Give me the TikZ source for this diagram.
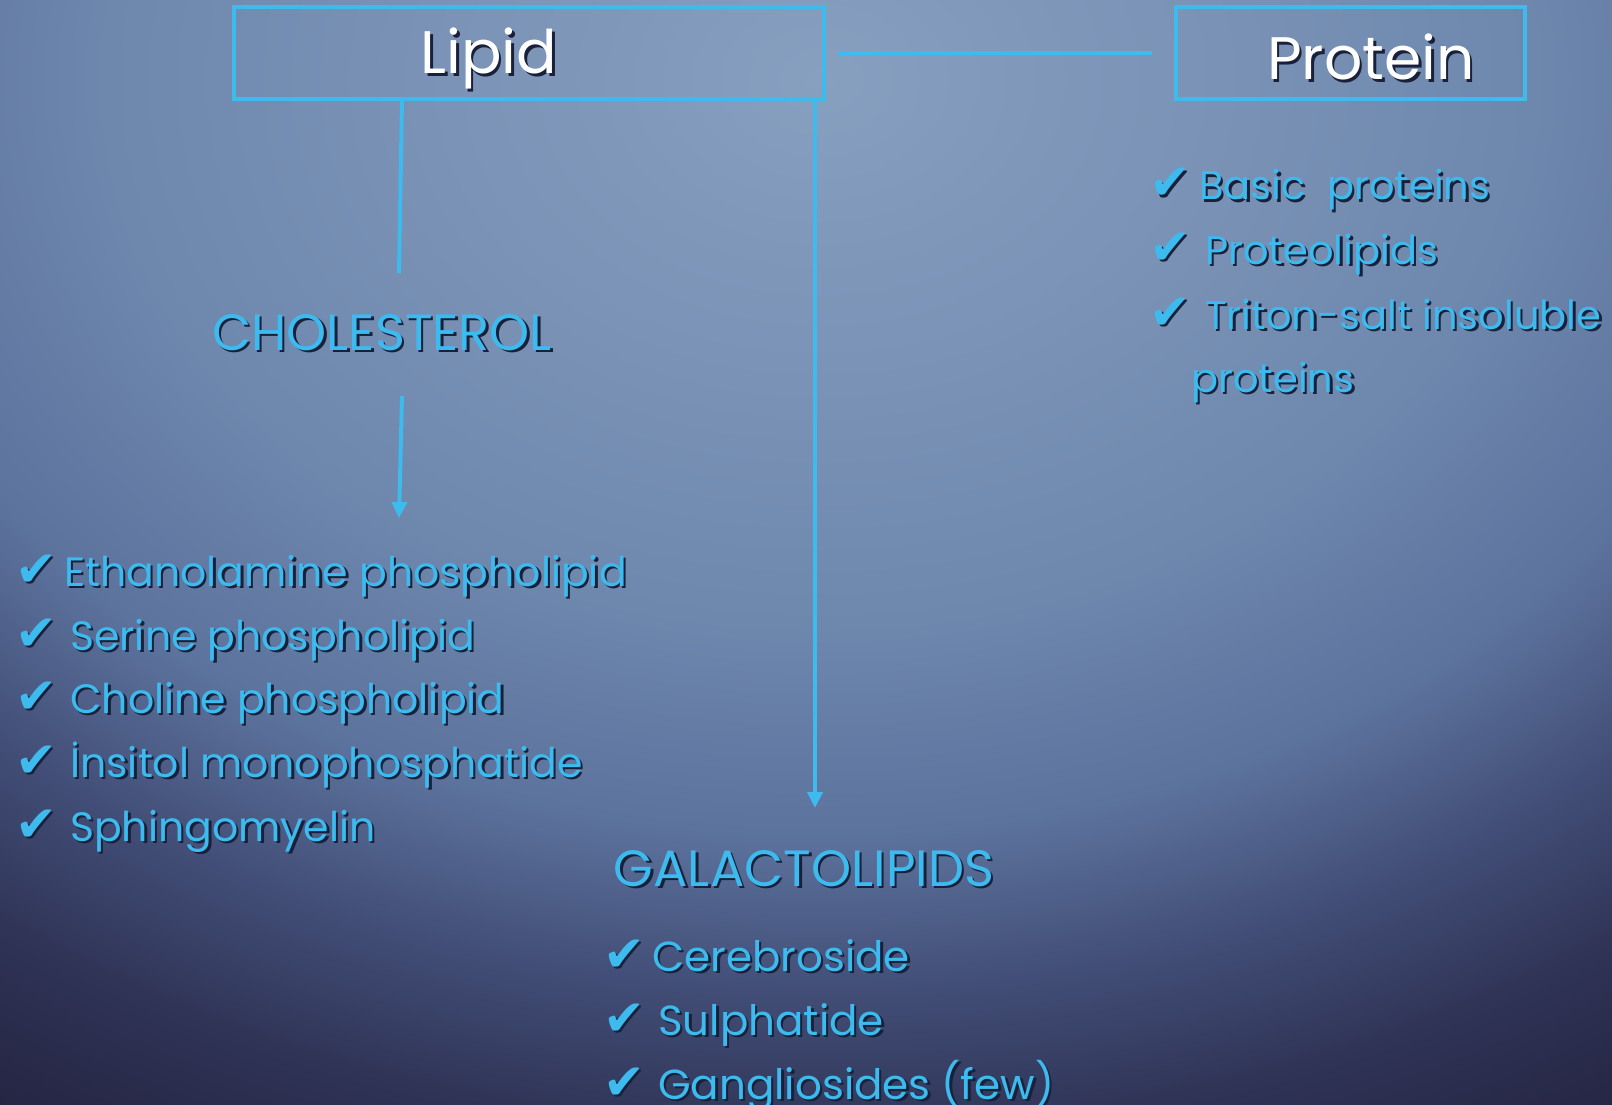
\documentclass[tikz,border=0pt]{standalone}
\usepackage{fontspec}
\setmainfont{Poppins}
\newfontfamily\chkfont{DejaVu Sans}
\usetikzlibrary{arrows.meta}
\definecolor{cy}{HTML}{3DBAEE}
\definecolor{shd}{HTML}{18203A}
\definecolor{bgA}{HTML}{87A0C0}
\definecolor{bgB}{HTML}{6E87AD}
\definecolor{bgC}{HTML}{5C739D}
\definecolor{bgD}{HTML}{424E77}
\definecolor{bgE}{HTML}{2E3254}
\definecolor{bgF}{HTML}{22213E}
\pgfdeclareradialshading{bgshade}{\pgfpoint{0bp}{0bp}}{%
  color(0bp)=(bgA); color(10.5bp)=(bgB); color(14.5bp)=(bgC); color(17.5bp)=(bgD); color(20.5bp)=(bgE); color(24bp)=(bgF); color(50bp)=(bgF)}
\newcommand\shtxt[1]{\leavevmode\rlap{\kern2.5pt\raisebox{-2.5pt}{\color{shd}#1}}#1}
\newcommand\itm[2]{\shtxt{\makebox[#1][l]{\chkfont\fontsize{50}{50}\selectfont ✔}#2}}
\tikzset{
  x=1pt, y=-1pt,
  cyline/.style={draw=cy, line width=4pt},
  boxst/.style={draw=cy, line width=4pt, rectangle, inner sep=0pt},
  title/.style={text=white, font=\fontsize{60}{60}\selectfont, inner sep=0pt},
  head/.style={text=cy, font=\fontsize{51}{51}\selectfont, inner sep=0pt},
  item/.style={text=cy, font=\fontsize{41}{41}\selectfont, inner sep=0pt, anchor=base west},
  gitem/.style={item, font=\fontsize{42}{42}\selectfont},
  pitem/.style={item, font=\fontsize{40}{40}\selectfont},
  tip/.style={-{Triangle[width=15pt,length=16pt]}}
}
\begin{document}
\begin{tikzpicture}
\useasboundingbox (0,0) rectangle (1612,1105);
\begin{scope}
\clip (0,0) rectangle (1612,1105);
\shade[shading=bgshade] (820,80) ellipse [x radius=1700, y radius=1300];
\end{scope}

% boxes
\node[boxst, minimum width=590pt, minimum height=92pt] (lipidbox) at (529,53) {};
\node[boxst, minimum width=349pt, minimum height=92pt] (protbox) at (1350.5,53) {};
\node[title, anchor=base] (lipid) at (489,74) {\shtxt{Lipid}};
\node[title, anchor=base] (protein) at (1371,80) {\shtxt{Protein}};

% heads
\node[head, anchor=base] (chol) at (382,350) {\shtxt{CHOLESTEROL}};
\node[head, anchor=base] (galac) at (804,886) {\shtxt{GALACTOLIPIDS}};

% connectors
\coordinate (lp1) at ([xshift=12pt]lipidbox.east);
\coordinate (pr1) at ([xshift=-22pt]protbox.west);
\draw[cyline] (lp1) -- (pr1);
\coordinate (ld1) at (402,99);
\coordinate (ld2) at (399,273);
\draw[cyline] (ld1) -- (ld2);
\coordinate (ca1) at (402,396);
\coordinate (ca2) at (399,518);
\draw[cyline, tip] (ca1) -- (ca2);
\coordinate (ga1) at (815,99);
\coordinate (ga2) at (815,808);
\draw[cyline, tip] (ga1) -- (ga2);

% left list
\node[item] (p1) at (15,586) {\itm{49pt}{Ethanolamine phospholipid}};
\node[item] (p2) at (15,650) {\itm{55pt}{Serine phospholipid}};
\node[item] (p3) at (15,713) {\itm{55pt}{Choline phospholipid}};
\node[item] (p4) at (15,777) {\itm{55pt}{İnsitol monophosphatide}};
\node[item] (p5) at (15,841) {\itm{55pt}{Sphingomyelin}};

% galactolipid list
\node[gitem] (g1) at (603,971) {\itm{49pt}{Cerebroside}};
\node[gitem] (g2) at (603,1035) {\itm{55pt}{Sulphatide}};
\node[gitem] (g3) at (603,1099) {\itm{55pt}{Gangliosides (few)}};

% protein list
\node[pitem] (r1) at (1149,200) {\itm{50pt}{Basic\ \ proteins}};
\node[pitem] (r2) at (1149,264) {\itm{56pt}{Proteolipids}};
\node[pitem] (r3) at (1149,329) {\itm{56pt}{Triton-salt insoluble}};
\node[pitem] (r4) at (1191,392) {\shtxt{proteins}};
\end{tikzpicture}
\end{document}
